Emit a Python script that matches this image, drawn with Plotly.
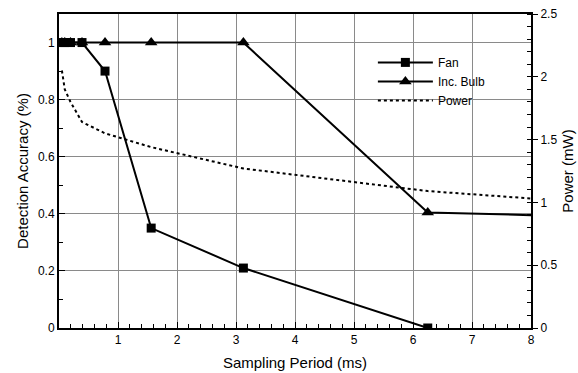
import plotly.graph_objects as go

period = [0.049, 0.098, 0.195, 0.39, 0.78, 1.5625, 3.125, 6.25, 12.5]
fan_acc = [1.0, 1.0, 1.0, 1.0, 0.9, 0.35, 0.21, 0.0]
bulb_acc = [1.0, 1.0, 1.0, 1.0, 1.0, 1.0, 1.0, 0.405, 0.37]
power_mw = [2.05, 1.9, 1.8, 1.64, 1.55, 1.44, 1.27, 1.09, 0.88]

FONT = "Liberation Sans, Arial, sans-serif"

fig = go.Figure()
fig.add_trace(go.Scatter(
    x=period[:len(fan_acc)], y=fan_acc, name="Fan", mode="lines+markers",
    line=dict(color="black", width=2),
    marker=dict(symbol="square", size=9, color="black"),
))
fig.add_trace(go.Scatter(
    x=period, y=bulb_acc, name="Inc. Bulb", mode="lines+markers",
    line=dict(color="black", width=2),
    marker=dict(symbol="triangle-up", size=11, color="black"),
))
fig.add_trace(go.Scatter(
    x=period, y=power_mw, name="Power", mode="lines", yaxis="y2",
    line=dict(color="black", width=2, dash="dot"),
))

fig.update_layout(
    width=578, height=373,
    margin=dict(l=59, r=47, t=14, b=45),
    paper_bgcolor="white", plot_bgcolor="white",
    font=dict(family=FONT, size=12, color="black"),
    xaxis=dict(
        range=[0, 8], tickvals=[1, 2, 3, 4, 5, 6, 7, 8],
        ticks="inside", ticklen=6, tickcolor="black",
        showgrid=True, gridcolor="#8a8a8a", gridwidth=1.2,
        showline=True, linecolor="black", linewidth=2, mirror=True,
        zeroline=False, automargin=False,
        minor=dict(dtick=0.2, tick0=0, ticks="inside", ticklen=4, tickcolor="black", showgrid=False),
        title=dict(text="Sampling Period (ms)", font=dict(size=15), standoff=11),
    ),
    yaxis=dict(
        range=[0, 1.1], tickvals=[0, 0.2, 0.4, 0.6, 0.8, 1],
        ticktext=["0", "0.2", "0.4", "0.6", "0.8", "1"],
        ticks="inside", ticklen=6, tickcolor="black",
        showgrid=True, gridcolor="#8a8a8a", gridwidth=1.2,
        showline=True, linecolor="black", linewidth=2,
        zeroline=False, automargin=False,
        minor=dict(dtick=0.1, tick0=0, ticks="inside", ticklen=4, tickcolor="black", showgrid=False),
        title=dict(text="Detection Accuracy (%)", font=dict(size=15), standoff=6),
    ),
    yaxis2=dict(
        overlaying="y", side="right",
        range=[0, 2.5], tickvals=[0, 0.5, 1, 1.5, 2, 2.5],
        ticktext=["0", "0.5", "1", "1.5", "2", "2.5"],
        ticks="outside", ticklen=5, tickcolor="black",
        showgrid=False, zeroline=False, automargin=False,
        showline=True, linecolor="black", linewidth=2,
        minor=dict(dtick=0.1, tick0=0, ticks="inside", ticklen=4, tickcolor="black"),
        title=dict(text="Power (mW)", font=dict(size=15), standoff=6),
    ),
    legend=dict(
        x=0.665, y=0.892, xanchor="left", yanchor="top",
        bgcolor="rgba(0,0,0,0)", borderwidth=0,
        font=dict(size=12), tracegroupgap=0, itemwidth=55,
    ),
    showlegend=True,
)

fig.write_html("out.html")
